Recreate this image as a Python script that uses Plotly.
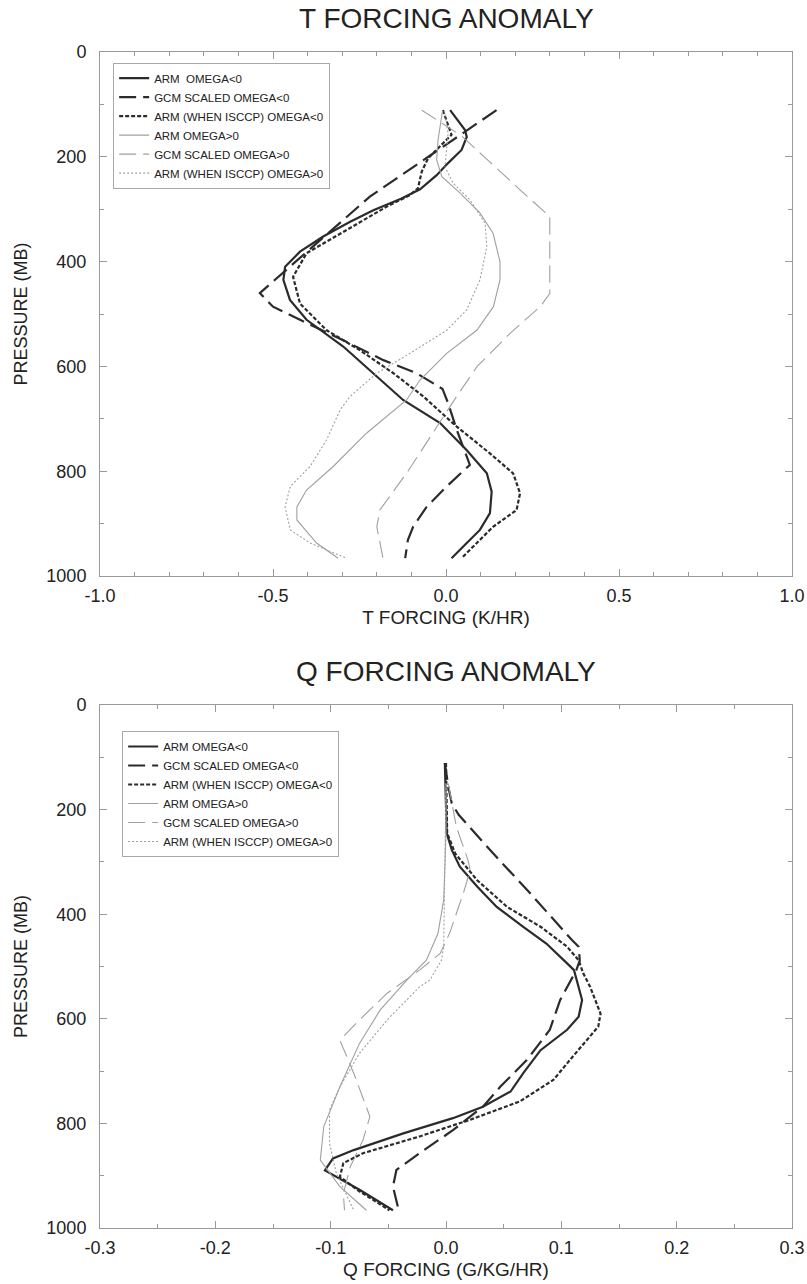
import plotly.graph_objects as go

# ---------------- T forcing (top panel) ----------------
t_arm_neg_p = [111, 149, 162, 187, 212, 235, 262, 280, 302, 324, 352, 381, 410, 435, 473, 511, 562, 613, 664, 708, 760, 804, 839, 880, 912, 937, 966]
t_arm_neg_x = [0.012, 0.055, 0.06, 0.045, 0.006, -0.027, -0.075, -0.13, -0.21, -0.277, -0.355, -0.422, -0.465, -0.47, -0.451, -0.403, -0.297, -0.21, -0.124, -0.017, 0.06, 0.118, 0.132, 0.127, 0.098, 0.06, 0.016]

t_gcm_neg_p = [111, 276, 460, 486, 511, 550, 588, 613, 643, 670, 721, 779, 788, 829, 868, 906, 931, 966]
t_gcm_neg_x = [0.146, -0.22, -0.538, -0.5, -0.422, -0.297, -0.181, -0.085, -0.01, 0.006, 0.031, 0.064, 0.069, 0.002, -0.056, -0.095, -0.11, -0.118]

t_isccp_neg_p = [111, 158, 203, 228, 260, 273, 295, 346, 384, 429, 480, 531, 569, 613, 657, 715, 766, 804, 842, 874, 906, 937, 966]
t_isccp_neg_x = [-0.009, 0.016, -0.052, -0.07, -0.081, -0.104, -0.171, -0.306, -0.403, -0.442, -0.422, -0.345, -0.249, -0.152, -0.066, 0.031, 0.127, 0.194, 0.214, 0.204, 0.136, 0.089, 0.045]

t_arm_pos_p = [112, 168, 206, 238, 269, 307, 346, 400, 435, 486, 531, 575, 626, 664, 727, 791, 836, 868, 893, 937, 966]
t_arm_pos_x = [-0.01, -0.023, -0.027, -0.012, 0.04, 0.098, 0.136, 0.156, 0.156, 0.137, 0.089, 0.002, -0.075, -0.114, -0.229, -0.326, -0.403, -0.431, -0.431, -0.374, -0.312]

t_gcm_pos_p = [111, 160, 263, 314, 461, 486, 537, 600, 657, 727, 800, 874, 906, 966]
t_gcm_pos_x = [-0.07, 0.045, 0.214, 0.30, 0.30, 0.272, 0.185, 0.09, 0.031, -0.037, -0.11, -0.191, -0.2, -0.182]

t_isccp_pos_p = [112, 155, 219, 250, 282, 327, 372, 435, 492, 531, 575, 613, 657, 683, 740, 791, 829, 868, 912, 937, 966]
t_isccp_pos_x = [-0.005, 0.006, -0.003, 0.02, 0.069, 0.113, 0.118, 0.098, 0.06, 0.002, -0.104, -0.2, -0.277, -0.306, -0.345, -0.393, -0.45, -0.465, -0.45, -0.393, -0.287]

# ---------------- Q forcing (bottom panel) ----------------
q_arm_neg_p = [111, 182, 245, 277, 309, 347, 386, 424, 456, 494, 507, 564, 596, 621, 660, 704, 739, 768, 790, 819, 851, 867, 890, 927, 966]
q_arm_neg_x = [-0.001, 0.0, 0.0006, 0.005, 0.012, 0.027, 0.044, 0.067, 0.087, 0.105, 0.111, 0.118, 0.115, 0.105, 0.082, 0.067, 0.056, 0.032, 0.006, -0.037, -0.080, -0.098, -0.105, -0.075, -0.046]

q_gcm_neg_p = [111, 156, 188, 210, 284, 360, 449, 462, 488, 507, 564, 621, 679, 730, 768, 813, 857, 889, 921, 966]
q_gcm_neg_x = [-0.001, 0.002, 0.005, 0.011, 0.041, 0.073, 0.109, 0.115, 0.116, 0.113, 0.099, 0.090, 0.070, 0.047, 0.032, 0.006, -0.023, -0.043, -0.046, -0.041]

q_isccp_neg_p = [111, 245, 284, 335, 386, 424, 462, 488, 513, 539, 590, 615, 672, 717, 758, 793, 825, 857, 876, 902, 927, 966]
q_isccp_neg_x = [0.0, 0.001, 0.008, 0.027, 0.053, 0.082, 0.105, 0.115, 0.119, 0.125, 0.134, 0.132, 0.110, 0.093, 0.064, 0.021, -0.023, -0.072, -0.089, -0.092, -0.077, -0.049]

q_arm_pos_p = [150, 245, 373, 437, 488, 526, 583, 647, 730, 806, 870, 921, 966]
q_arm_pos_x = [0.0, 0.0, -0.002, -0.007, -0.017, -0.034, -0.057, -0.075, -0.092, -0.106, -0.109, -0.092, -0.069]

q_gcm_pos_p = [150, 233, 296, 316, 360, 437, 475, 507, 551, 602, 641, 704, 787, 832, 883, 934, 966]
q_gcm_pos_x = [0.002, 0.009, 0.019, 0.021, 0.015, 0.003, -0.005, -0.023, -0.051, -0.075, -0.092, -0.080, -0.066, -0.072, -0.083, -0.089, -0.088]

q_isccp_pos_p = [150, 373, 462, 488, 526, 539, 602, 666, 730, 774, 838, 896, 966]
q_isccp_pos_x = [0.0, -0.001, -0.002, -0.004, -0.014, -0.023, -0.051, -0.075, -0.092, -0.101, -0.101, -0.095, -0.080]

names_top = ["ARM  OMEGA<0", "GCM SCALED OMEGA<0", "ARM (WHEN ISCCP) OMEGA<0",
             "ARM OMEGA>0", "GCM SCALED OMEGA>0", "ARM (WHEN ISCCP) OMEGA>0"]
names_bot = ["ARM OMEGA<0", "GCM SCALED OMEGA<0", "ARM (WHEN ISCCP) OMEGA<0",
             "ARM OMEGA>0", "GCM SCALED OMEGA>0", "ARM (WHEN ISCCP) OMEGA>0"]

# tick labels
t_tickvals = [-1.0, -0.5, 0.0, 0.5, 1.0]
t_ticktext = ["-1.0", "-0.5", "0.0", "0.5", "1.0"]
q_tickvals = [-0.3, -0.2, -0.1, 0.0, 0.1, 0.2, 0.3]
q_ticktext = ["-0.3", "-0.2", "-0.1", "0.0", "0.1", "0.2", "0.3"]
p_tickvals = [0, 200, 400, 600, 800, 1000]

DARK = "#2b2b2b"
GREY = "#a0a0a0"
styles = [
    dict(color=DARK, width=2.2, dash="solid"),
    dict(color=DARK, width=2.2, dash="17px,7px"),
    dict(color=DARK, width=2.2, dash="4px,2px"),
    dict(color=GREY, width=1.1, dash="solid"),
    dict(color=GREY, width=1.1, dash="17px,7px"),
    dict(color=GREY, width=1.1, dash="2px,2px"),
]

top_series = [(t_arm_neg_x, t_arm_neg_p), (t_gcm_neg_x, t_gcm_neg_p), (t_isccp_neg_x, t_isccp_neg_p),
              (t_arm_pos_x, t_arm_pos_p), (t_gcm_pos_x, t_gcm_pos_p), (t_isccp_pos_x, t_isccp_pos_p)]
bot_series = [(q_arm_neg_x, q_arm_neg_p), (q_gcm_neg_x, q_gcm_neg_p), (q_isccp_neg_x, q_isccp_neg_p),
              (q_arm_pos_x, q_arm_pos_p), (q_gcm_pos_x, q_gcm_pos_p), (q_isccp_pos_x, q_isccp_pos_p)]

fig = go.Figure()
for (x, p), nm, st in zip(top_series, names_top, styles):
    fig.add_trace(go.Scatter(x=x, y=p, mode="lines", name=nm, line=st,
                             xaxis="x", yaxis="y", legend="legend"))
for (x, p), nm, st in zip(bot_series, names_bot, styles):
    fig.add_trace(go.Scatter(x=x, y=p, mode="lines", name=nm, line=st,
                             xaxis="x2", yaxis="y2", legend="legend2"))

FONT = "Liberation Sans, Arial, Helvetica, sans-serif"
AX = "#9a9a9a"
TXT = "#222222"

def xax(rng, tv, tt, minor, title, anchor):
    return dict(range=rng, tickvals=tv, ticktext=tt, anchor=anchor, automargin=False,
                ticks="inside", ticklen=7, tickcolor=AX, tickwidth=1,
                minor=dict(dtick=minor, tick0=rng[0], ticks="inside", ticklen=4, tickcolor=AX),
                showline=True, linecolor=AX, linewidth=1, mirror="allticks",
                showgrid=False, zeroline=False, ticklabelstandoff=3,
                tickfont=dict(size=18, color=TXT, family=FONT),
                title=dict(text=title, font=dict(size=19, color=TXT, family=FONT), standoff=6))

def yax(domain, anchor):
    return dict(range=[1000, 0], domain=domain, anchor=anchor, tickvals=p_tickvals, automargin=False,
                ticks="inside", ticklen=7, tickcolor=AX, tickwidth=1,
                minor=dict(dtick=100, tick0=0, ticks="inside", ticklen=4, tickcolor=AX),
                showline=True, linecolor=AX, linewidth=1, mirror="allticks",
                showgrid=False, zeroline=False, ticklabelstandoff=9,
                tickfont=dict(size=18, color=TXT, family=FONT),
                title=dict(text="PRESSURE (MB)", font=dict(size=18, color=TXT, family=FONT), standoff=14))

leg_common = dict(bgcolor="rgba(255,255,255,1)", bordercolor="#a8a8a8", borderwidth=1,
                  font=dict(size=11.5, color=TXT, family=FONT), xanchor="left", yanchor="top",
                  tracegroupgap=0, itemwidth=30)

fig.update_layout(
    width=807, height=1284,
    margin=dict(l=100, r=15, t=52, b=56, autoexpand=False),
    paper_bgcolor="white", plot_bgcolor="white",
    font=dict(family=FONT, color=TXT),
    xaxis=xax([-1, 1], t_tickvals, t_ticktext, 0.1, "T FORCING (K/HR)", "y"),
    yaxis=yax([0.5544, 1.0], "x"),
    xaxis2=xax([-0.3, 0.3], q_tickvals, q_ticktext, 0.05, "Q FORCING (G/KG/HR)", "y2"),
    yaxis2=yax([0.0, 0.4447], "x2"),
    legend=dict(x=0.019, y=0.991, **leg_common),
    legend2=dict(x=0.032, y=0.4226, **leg_common),
    annotations=[
        dict(text="T FORCING ANOMALY", xref="paper", yref="paper", x=0.5, y=1.0286,
             showarrow=False, font=dict(size=28, color=TXT, family=FONT), yanchor="middle"),
        dict(text="Q FORCING ANOMALY", xref="paper", yref="paper", x=0.5, y=0.4728,
             showarrow=False, font=dict(size=28, color=TXT, family=FONT), yanchor="middle"),
    ],
)

fig.write_html("out.html", config={"displayModeBar": False},
               post_script="document.body.style.margin='0';")
